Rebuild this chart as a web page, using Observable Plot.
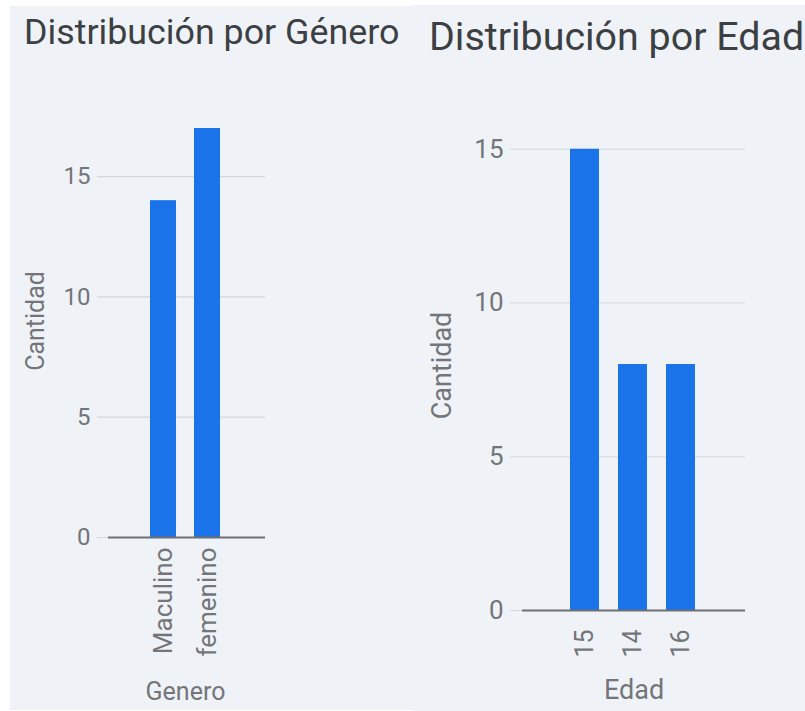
<!DOCTYPE html>
<html>
<head>
<meta charset="utf-8">
<script src="https://cdn.jsdelivr.net/npm/d3@7"></script>
<script src="https://cdn.jsdelivr.net/npm/@observablehq/plot@0.6"></script>
<style>
  html, body { margin: 0; padding: 0; background: #ffffff; }
  #page { position: relative; width: 805px; height: 711px; overflow: hidden; font-family: Roboto, "Noto Sans", sans-serif; }
  #bgL { position: absolute; left: 10px; top: 6px; width: 403px; height: 704px; background: #eff3f8; }
  #bgR { position: absolute; left: 413px; top: 5px; width: 392px; height: 706px; background: #eff3f8; }
  .title { position: absolute; color: #3c4043; white-space: nowrap; font-weight: 400; line-height: 1; }
  #tL { left: 24px; top: 15px; font-size: 35.8px; }
  #tR { left: 429px; top: 17px; font-size: 39.4px; }
  .chart { position: absolute; top: 0; }
  #cL { left: 0; }
  #cR { left: 410px; }
</style>
</head>
<body>
<div id="page">
  <div id="bgL"></div>
  <div id="bgR"></div>
  <div class="title" id="tL">Distribución por Género</div>
  <div class="title" id="tR">Distribución por Edad</div>
  <div class="chart" id="cL"></div>
  <div class="chart" id="cR"></div>
</div>
<script>
const generoCats = ["Maculino", "femenino"];
const generoVals = [14, 17];
const edadCats = ["15", "14", "16"];
const edadVals = [15, 8, 8];
const yTicks = [0, 5, 10, 15];

const barColor = "#1a73e8";
const gridColor = "#d3d7dc";
const axisColor = "#6e7074";
const textColor = "#737579";

function makeChart({cats, vals, width, height, margins, yMax, xLabel, yTickFont, xTickFont, xTickPad, labelFont, yLabelDx, yLabelDy, xLabelDx, xLabelDy, baseInset}) {
  const data = cats.map((c, i) => ({cat: c, val: vals[i]}));
  return Plot.plot({
    width, height,
    marginLeft: margins[0], marginRight: margins[1], marginTop: margins[2], marginBottom: margins[3],
    style: {background: "transparent", color: textColor, fontFamily: "Roboto, 'Noto Sans', sans-serif"},
    x: {domain: cats, paddingInner: 0.4, paddingOuter: 1.1, align: 0.54, label: null},
    y: {domain: [0, yMax], label: null},
    marks: [
      Plot.ruleY(yTicks, {stroke: gridColor, strokeWidth: 1.2}),
      Plot.barY(data, {x: "cat", y: "val", fill: barColor}),
      Plot.ruleY([0], {stroke: axisColor, strokeWidth: 2, insetLeft: baseInset}),
      Plot.axisY(yTicks, {tickSize: 0, tickPadding: 7, fontSize: yTickFont, fill: textColor, label: null}),
      Plot.axisX({tickSize: 0, tickRotate: -90, tickPadding: xTickPad, fontSize: xTickFont, fill: textColor, label: null}),
      Plot.text(["Cantidad"], {frameAnchor: "left", textAnchor: "middle", lineAnchor: "middle", dx: yLabelDx, dy: yLabelDy, rotate: -90, fontSize: labelFont, fill: textColor}),
      Plot.text([xLabel], {frameAnchor: "bottom", textAnchor: "middle", lineAnchor: "middle", dx: xLabelDx, dy: xLabelDy, fontSize: labelFont, fill: textColor})
    ]
  });
}

document.getElementById("cL").appendChild(makeChart({
  cats: generoCats, vals: generoVals, width: 410, height: 711,
  margins: [97, 145, 128, 174], yMax: 17, xLabel: "Genero",
  yTickFont: 24, xTickFont: 26, xTickPad: 10, labelFont: 25,
  yLabelDx: -62, yLabelDy: -12, xLabelDx: 4, xLabelDy: 154, baseInset: 11
}));

document.getElementById("cR").appendChild(makeChart({
  cats: edadCats, vals: edadVals, width: 395, height: 711,
  margins: [100, 60, 118, 101], yMax: 16, xLabel: "Edad",
  yTickFont: 26, xTickFont: 25, xTickPad: 19, labelFont: 27,
  yLabelDx: -68, yLabelDy: 1, xLabelDx: 6, xLabelDy: 80, baseInset: 12
}));
</script>
</body>
</html>
